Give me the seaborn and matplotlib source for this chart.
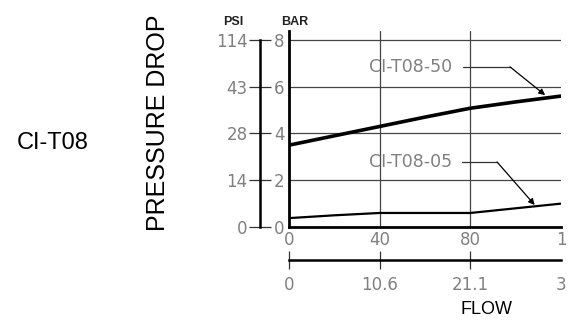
import numpy as np
import pandas as pd
import seaborn as sns
import matplotlib
matplotlib.use("Agg")
import matplotlib.pyplot as plt

# data (flow in main-axis units, pressure in BAR)
flow = [0, 20, 40, 60, 80, 100, 120]
drop_50 = [3.5, 3.9, 4.3, 4.7, 5.08, 5.35, 5.6]
drop_05 = [0.38, 0.5, 0.6, 0.6, 0.6, 0.8, 1.0]

bar_ticks = [0, 2, 4, 6, 8]
psi_labels = ["0", "14", "28", "43", "114"]
flow_ticks = [0, 40, 80, 120]
flow_labels = ["0", "40", "80", "1"]
flow2_labels = ["0", "10.6", "21.1", "3"]

df = pd.DataFrame({"flow": flow * 2,
                   "drop": drop_50 + drop_05,
                   "model": ["CI-T08-50"] * len(flow) + ["CI-T08-05"] * len(flow)})

sns.set_style("white")
plt.rcParams["font.family"] = ["DejaVu Sans"]
gray = "#808080"
sans = "Liberation Sans"

fig = plt.figure(figsize=(5.75, 3.2), dpi=100)
L, W = 289 / 575, 272 / 575
ax = fig.add_axes([L, 1 - 227 / 320, W, (227 - 30.6) / 320])

sns.lineplot(data=df[df.model == "CI-T08-50"], x="flow", y="drop", ax=ax,
             color="black", lw=2.6, legend=False)
sns.lineplot(data=df[df.model == "CI-T08-05"], x="flow", y="drop", ax=ax,
             color="black", lw=1.6, legend=False)

ax.set_xlim(0, 120)
ax.set_ylim(0, 8.4)
for y in [2, 4, 6, 8]:
    ax.axhline(y, color="#444444", lw=0.9, zorder=0)
for x in [40, 80]:
    ax.axvline(x, color="#444444", lw=0.9, zorder=0)
for s in ["top", "right"]:
    ax.spines[s].set_visible(False)
for s in ["left", "bottom"]:
    ax.spines[s].set_linewidth(2.0)
    ax.spines[s].set_color("black")
ax.set_xticks(flow_ticks)
ax.set_xticklabels(flow_labels)
ax.set_yticks(bar_ticks)
ax.set_yticklabels([str(b) for b in bar_ticks])
ax.tick_params(axis="both", length=0, labelsize=12, labelcolor=gray)
ax.tick_params(axis="x", pad=3)
ax.tick_params(axis="y", pad=3)
ax.set_xlabel("")
ax.set_ylabel("")

# leader-line annotations
for label, tx, ty, hx, px, py in [("CI-T08-50", 53.8, 6.85, 97.5, 113, 5.64),
                                  ("CI-T08-05", 53.5, 2.78, 91.8, 108.4, 0.94)]:
    ax.text(tx, ty, label, ha="center", va="center", fontsize=12.5, color=gray)
    ax.plot([tx + 23, hx], [ty, ty], color="#333333", lw=0.9)
    ax.annotate("", xy=(px, py), xytext=(hx, ty),
                arrowprops=dict(arrowstyle="-|>", color="black", lw=0.9,
                                mutation_scale=9, shrinkA=0, shrinkB=0))

# PSI axis
psi = fig.add_axes([260 / 575, 1 - 227 / 320, 0.0001, (227 - 30.6) / 320])
psi.set_ylim(0, 8.4)
psi.set_xticks([])
for s in ["top", "right", "bottom"]:
    psi.spines[s].set_visible(False)
psi.spines["left"].set_bounds(0, 8)
psi.spines["left"].set_linewidth(1.8)
psi.spines["left"].set_color("black")
psi.set_yticks(bar_ticks)
psi.set_yticklabels(psi_labels)
psi.tick_params(axis="y", left=True, direction="inout", length=16, width=0.9,
                color="#333333", labelsize=12, labelcolor=gray, pad=1)
psi.patch.set_visible(False)

# second flow axis
fl = fig.add_axes([L, 1 - 260 / 320, W, 0.0001])
fl.set_xlim(0, 120)
fl.set_yticks([])
for s in ["top", "right", "left"]:
    fl.spines[s].set_visible(False)
fl.spines["bottom"].set_linewidth(1.8)
fl.spines["bottom"].set_color("black")
fl.set_xticks(flow_ticks)
fl.set_xticklabels(flow2_labels)
fl.tick_params(axis="x", bottom=True, direction="inout", length=13, width=0.9,
               color="#333333", labelsize=12, labelcolor=gray, pad=5)
fl.xaxis.get_major_ticks()[-1].tick1line.set_visible(False)
fl.patch.set_visible(False)

# headings
fig.text(233 / 575, 1 - 22 / 320, "PSI", ha="center", va="center",
         fontsize=9, fontweight="bold", family=[sans, "DejaVu Sans"], color="#222222")
fig.text(295 / 575, 1 - 22 / 320, "BAR", ha="center", va="center",
         fontsize=9, fontweight="bold", family=[sans, "DejaVu Sans"], color="#222222")
fig.text(158 / 575, 1 - 123 / 320, "PRESSURE DROP", rotation=90, ha="center",
         va="center", fontsize=18, family=[sans, "DejaVu Sans"], color="black")
fig.text(53 / 575, 1 - 143 / 320, "CI-T08", ha="center", va="center",
         fontsize=17, family=[sans, "DejaVu Sans"], color="black")
fig.text(487 / 575, 1 - 310 / 320, "FLOW", ha="center", va="center",
         fontsize=13, family=[sans, "DejaVu Sans"], color="black")

fig.savefig("out.png", dpi=100)
